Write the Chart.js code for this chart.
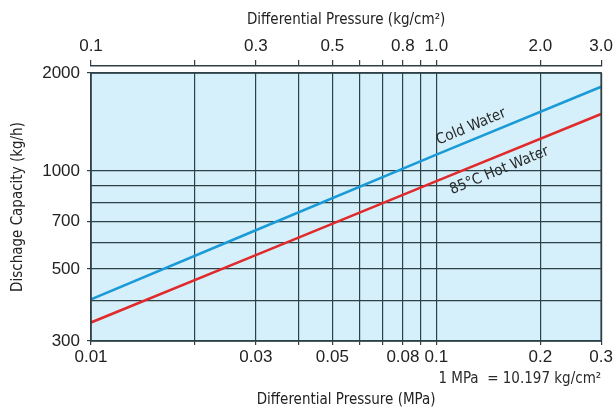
<!DOCTYPE html>
<html>
<head>
<meta charset="utf-8">
<script src="https://cdn.jsdelivr.net/npm/chart.js@4.4.1/dist/chart.umd.min.js"></script>
<style>
    html, body { margin: 0; padding: 0; background: #fff; }
    #wrap { width: 616px; height: 410px; }
</style>
</head>
<body>
<div id="wrap"><canvas id="capChart" width="616" height="410"></canvas></div>
<script>
// (log-log, straight lines)
const pressureMPa = [0.01, 0.03, 0.1, 0.3];
const coldWater = [403, 657, 1122, 1815];
const hotWater = [342, 551, 930, 1497];

const mpaTicks = [0.01, 0.02, 0.03, 0.04, 0.05, 0.06, 0.07, 0.08, 0.09, 0.1, 0.2, 0.3];
const mpaLabels = [0.01, 0.03, 0.05, 0.08, 0.1, 0.2, 0.3];
const kgTicks = [0.1, 0.2, 0.3, 0.4, 0.5, 0.6, 0.7, 0.8, 0.9, 1.0, 2.0, 3.0];
const kgLabels = ['0.1', '0.3', '0.5', '0.8', '1.0', '2.0', '3.0'];
const capTicks = [300, 400, 500, 600, 700, 800, 900, 1000, 2000];
const capLabels = [300, 500, 700, 1000, 2000];

const GRID = '#2e4147';
const narrow = '"Liberation Sans Narrow", "DejaVu Sans Condensed", "Liberation Sans", sans-serif';
const tickFont = { family: '"Liberation Sans", Arial, sans-serif', size: 17 };
const titleFont = { family: narrow, size: 15 };

function near(a, b) { return Math.abs(a - b) < 1e-9 * Math.max(1, b); }
function fixTicks(values) {
    return (scale) => { scale.ticks = values.map((v) => ({ value: v })); };
}

const plotBg = {
    id: 'plotBg',
    beforeDraw(chart) {
        const { ctx, chartArea: a } = chart;
        ctx.save();
        ctx.fillStyle = '#d5f0fa';
        ctx.fillRect(a.left, a.top, a.right - a.left, a.bottom - a.top);
        ctx.restore();
    },
    afterDraw(chart) {
        const { ctx, chartArea: a } = chart;
        ctx.save();
        ctx.strokeStyle = GRID;
        ctx.lineWidth = 1.6;
        ctx.strokeRect(a.left, a.top, a.right - a.left, a.bottom - a.top);
        ctx.restore();
    }
};

const lineLabels = {
    id: 'lineLabels',
    afterDatasetsDraw(chart) {
        const { ctx } = chart;
        const specs = [
            { i: 0, text: 'Cold Water', t: 0.755, off: -13 },
            { i: 1, text: '85\u00B0C Hot Water', t: 0.79, off: 14 }
        ];
        ctx.save();
        ctx.fillStyle = '#2a2a2a';
        ctx.font = `15px ${narrow}`;
        ctx.textAlign = 'center';
        ctx.textBaseline = 'middle';
        specs.forEach((s) => {
            const pts = chart.getDatasetMeta(s.i).data;
            const p0 = pts[0], p1 = pts[pts.length - 1];
            const ang = Math.atan2(p1.y - p0.y, p1.x - p0.x);
            const cx = p0.x + (p1.x - p0.x) * s.t - Math.sin(ang) * s.off;
            const cy = p0.y + (p1.y - p0.y) * s.t + Math.cos(ang) * s.off;
            ctx.save();
            ctx.translate(cx, cy);
            ctx.rotate(ang);
            ctx.fillText(s.text, 0, 0);
            ctx.restore();
        });
        // conversion note under the bottom axis
        const x = chart.scales.x;
        ctx.textAlign = 'right';
        ctx.fillText('1 MPa  = 10.197 kg/cm\u00B2', x.right, 379);
        ctx.restore();
    }
};

new Chart(document.getElementById('capChart'), {
    type: 'line',
    data: {
        datasets: [
            {
                label: 'Cold Water',
                data: pressureMPa.map((p, i) => ({ x: p, y: coldWater[i] })),
                borderColor: '#1b9ad8',
                borderWidth: 2.6,
                pointRadius: 0,
                tension: 0
            },
            {
                label: '85\u00B0C Hot Water',
                data: pressureMPa.map((p, i) => ({ x: p, y: hotWater[i] })),
                borderColor: '#e02a2c',
                borderWidth: 2.6,
                pointRadius: 0,
                tension: 0
            }
        ]
    },
    options: {
        responsive: false,
        animation: false,
        layout: { padding: { left: 0, right: 12, top: 0, bottom: 0 } },
        plugins: { legend: { display: false }, tooltip: { enabled: false } },
        scales: {
            x: {
                type: 'logarithmic',
                position: 'bottom',
                min: 0.01,
                max: 0.3,
                afterBuildTicks: fixTicks(mpaTicks),
                afterFit(s) { s.height = 69; },
                ticks: {
                    autoSkip: false,
                    maxRotation: 0,
                    padding: 2,
                    color: '#222',
                    font: tickFont,
                    callback: (v) => mpaLabels.some((l) => near(v, l)) ? String(v) : ''
                },
                grid: { color: GRID, lineWidth: 1.2, tickLength: 4, tickColor: GRID },
                border: { display: false },
                title: { display: true, text: 'Differential Pressure (MPa)', color: '#222', font: titleFont, padding: { top: 0, bottom: 1 } }
            },
            spacer: {
                type: 'linear',
                position: 'top',
                weight: 0,
                afterFit(s) { s.height = 7; },
                ticks: { display: false },
                grid: { display: false },
                border: { display: false }
            },
            x2: {
                type: 'logarithmic',
                position: 'top',
                weight: 1,
                min: 0.1,
                max: 3.0,
                afterBuildTicks: fixTicks(kgTicks),
                afterFit(s) { s.height = 66; },
                ticks: {
                    autoSkip: false,
                    maxRotation: 0,
                    padding: 3,
                    color: '#222',
                    font: tickFont,
                    callback: (v) => kgLabels.find((l) => near(v, parseFloat(l))) || ''
                },
                grid: { drawOnChartArea: false, tickLength: 6, tickColor: GRID, lineWidth: 1.2 },
                border: { display: true, color: GRID, width: 1.6 },
                title: { display: true, text: 'Differential Pressure (kg/cm\u00B2)', color: '#222', font: titleFont, padding: { top: 11, bottom: 0 } }
            },
            y: {
                type: 'logarithmic',
                min: 300,
                max: 2000,
                afterBuildTicks: fixTicks(capTicks),
                afterFit(s) { s.width = 91; },
                ticks: {
                    autoSkip: false,
                    padding: 7,
                    color: '#222',
                    font: tickFont,
                    callback: (v) => capLabels.some((l) => near(v, l)) ? String(v) : ''
                },
                grid: {
                    color: GRID,
                    lineWidth: 1.2,
                    tickLength: 4,
                    tickColor: (c) => capLabels.some((l) => near(c.tick.value, l)) ? GRID : 'rgba(0,0,0,0)'
                },
                border: { display: false },
                title: { display: true, text: 'Dischage Capacity (kg/h)', color: '#222', font: titleFont, padding: { top: 9, bottom: 0 } }
            }
        }
    },
    plugins: [plotBg, lineLabels]
});
</script>
</body>
</html>
